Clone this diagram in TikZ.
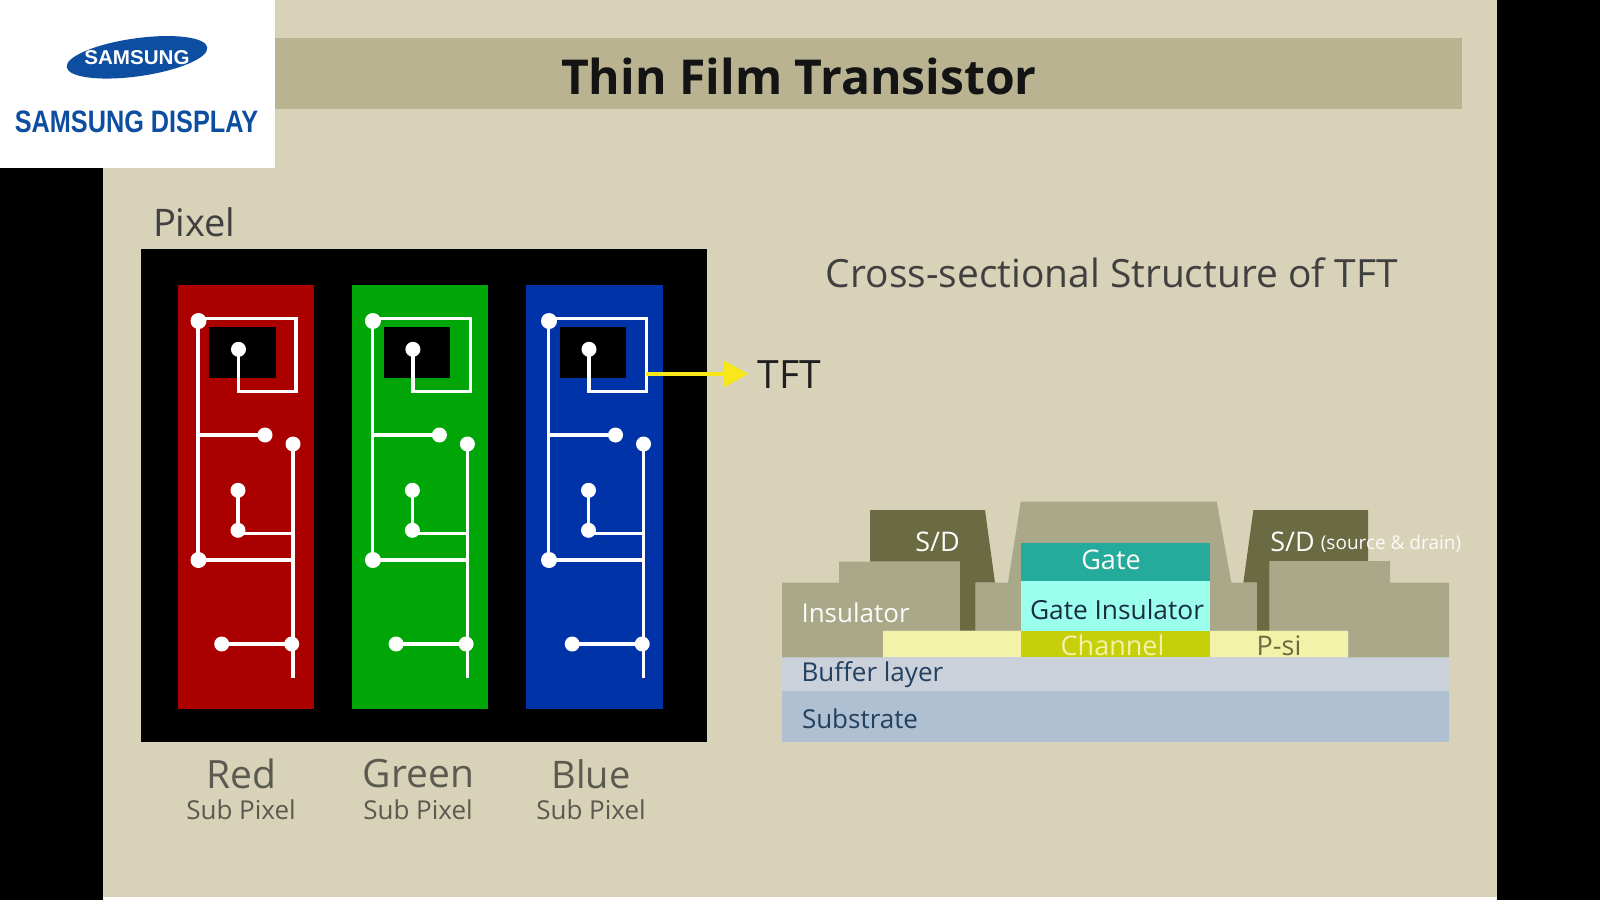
\documentclass[tikz,border=0pt]{standalone}
\usepackage{fontspec}
\setmainfont{Open Sans}
\newfontfamily\logofont{Liberation Sans}
\usetikzlibrary{arrows.meta}
\definecolor{panel}{HTML}{D8D2B8}
\definecolor{bar}{HTML}{B9B391}
\definecolor{sam}{HTML}{0D4EA0}
\definecolor{ins}{HTML}{A9A98A}
\definecolor{sdc}{HTML}{6B6B43}
\definecolor{subs}{HTML}{AFC0D2}
\definecolor{buf}{HTML}{CAD1DB}
\definecolor{gatec}{HTML}{24AB9B}
\definecolor{gins}{HTML}{9CFFEE}
\definecolor{chan}{HTML}{C6CF0A}
\definecolor{psi}{HTML}{F2F3A8}
\definecolor{navy}{HTML}{23405F}
\definecolor{lab}{HTML}{5A5A50}
\definecolor{rd}{HTML}{AA0000}
\definecolor{gr}{HTML}{00A608}
\definecolor{bl}{HTML}{0033A8}
\definecolor{yel}{HTML}{F8E81A}
\newcommand{\fsz}[1]{\fontsize{#1}{#1}\selectfont}
\tikzset{
  txt/.style={inner sep=0pt,outer sep=0pt},
  lft/.style={txt,anchor=west},
  dot/.style={circle,fill=white,draw=none,minimum size=15pt,inner sep=0pt,outer sep=0pt},
  bigdot/.style={dot,minimum size=16pt},
  wire/.style={draw=white,line width=3.2pt},
  sublabel/.style={txt,text=lab,align=center},
}
\newcommand{\subpixel}[4]{%
  \fill[#3] (177.7+#4,285) rectangle (314+#4,709);
  \begin{scope}[xshift=#2pt]
    \fill[black] (209.3,327.3) rectangle (275.7,378.3);
    \coordinate (#1tl) at (198,318.3);
    \coordinate (#1tr) at (296,318.3);
    \coordinate (#1br) at (296,391.7);
    \coordinate (#1bl) at (238.5,391.7);
    \coordinate (#1jl) at (198,435);
    \coordinate (#1jr) at (293,533.3);
    \coordinate (#1jg) at (238.5,533.3);
    \coordinate (#1jc) at (293,560);
    \coordinate (#1end) at (293,678);
    \node[bigdot] (#1A) at (198.5,321) {};
    \node[dot] (#1B) at (238.5,349.3) {};
    \node[bigdot] (#1C) at (198.5,560) {};
    \node[dot] (#1D) at (265,435) {};
    \node[dot] (#1E) at (293,444) {};
    \node[dot] (#1F) at (238,490.3) {};
    \node[dot] (#1G) at (238,530.3) {};
    \node[dot] (#1H) at (221.7,644) {};
    \node[dot] (#1I) at (291.7,644) {};
    \draw[wire] (#1tl) -- (#1tr) -- (#1br) -- (#1bl) -- (#1B.center);
    \draw[wire] (#1tl) -- (#1tl |- #1C);
    \draw[wire] (#1jl) -- (#1D.center);
    \draw[wire] (#1E.center) -- (#1end);
    \draw[wire] (#1F.center) -- (#1G.center);
    \draw[wire] (#1jg) -- (#1jr);
    \draw[wire] (#1C.center) -- (#1jc);
    \draw[wire] (#1H.center) -- (#1I.center);
  \end{scope}
}
\begin{document}
\begin{tikzpicture}[x=1pt,y=-1pt]
\useasboundingbox (0,0) rectangle (1600,900);
\fill[black] (0,0) rectangle (1600,900);
\fill[panel] (103,0) rectangle (1497,897);
\fill[white!92!panel] (103,897) rectangle (1497,900);
\fill[bar] (275,38) rectangle (1462,109);
\fill[white] (0,0) rectangle (275,168);
\fill[sam,rotate around={8:(137,57.3)}] (137,57.3) ellipse [x radius=71,y radius=19];
\node[txt,text=white,font=\logofont\bfseries\fsz{20},xscale=1.03] (samsung) at (137,57.5) {SAMSUNG};
\node[txt,text=sam,font=\logofont\bfseries\fsz{31},xscale=.815] (display) at (136.5,121.5) {SAMSUNG DISPLAY};
\node[txt,font=\fsz{48.1}\bfseries,text=black!92] (title) at (799,76) {Thin Film Transistor};
\node[lft,font=\fsz{38},text=black!75] (pixel) at (153,222) {Pixel};
\fill[black] (141,249) rectangle (707,742);
\subpixel{r}{0}{rd}{0}
\subpixel{g}{174.4}{gr}{174.4}
\subpixel{b}{350.5}{bl}{348.7}
\node[lft,font=\fsz{39},text=black!88] (tft) at (757.5,375) {TFT};
\coordinate (tftfrom) at (646,374);
\draw[yel,line width=4.5pt,-{Triangle[length=25pt,width=26pt]},shorten >=9pt] (tftfrom) -- (tftfrom -| tft.west);
\node[txt,font=\fsz{38.9},text=black!75] (cross) at (1112,273) {Cross-sectional Structure of TFT};
\node[sublabel,font=\fsz{39}] (red) at (241,774) {Red};
\node[sublabel,font=\fsz{26}] (reds) at (241,810) {Sub Pixel};
\node[sublabel,font=\fsz{39}] (green) at (418.5,774) {Green};
\node[sublabel,font=\fsz{26}] (greens) at (418,810) {Sub Pixel};
\node[sublabel,font=\fsz{38}] (blue) at (591,774) {Blue};
\node[sublabel,font=\fsz{26}] (blues) at (591,810) {Sub Pixel};
% cross section
\fill[subs] (782,690.7) rectangle (1449,741.7);
\fill[buf] (782,657.3) rectangle (1449,690.7);
\fill[sdc] (870,510) -- (985,510) -- (995,582.7) -- (975.7,582.7) -- (975.7,630.7) -- (959.7,630.7) -- (959.7,561.7) -- (870,561.7) -- cycle;
\fill[sdc] (1253.4,510) -- (1368,510) -- (1368,561) -- (1269.5,561) -- (1269.5,630.7) -- (1256.7,630.7) -- (1256.7,582.7) -- (1243.3,582.7) -- cycle;
\fill[ins] (782,657.3) -- (782,582.7) -- (839,582.7) -- (839,561.7) -- (959.7,561.7) -- (959.7,630.7) -- (883,630.7) -- (883,657.3) -- cycle;
\fill[ins] (975.7,630.7) -- (975.7,582.7) -- (1008,582.7) -- (1020.7,501.7) -- (1216.7,501.7) -- (1231.4,582.7) -- (1256.7,582.7) -- (1256.7,630.7) -- cycle;
\fill[ins] (1269.5,561) -- (1390,561) -- (1390,582.7) -- (1449,582.7) -- (1449,657.3) -- (1348.4,657.3) -- (1348.4,630.7) -- (1269.5,630.7) -- cycle;
\fill[psi] (883,630.7) rectangle (1348.4,657.3);
\fill[chan] (1020.7,630.7) rectangle (1209.8,657.3);
\fill[gins] (1020.7,580.7) rectangle (1209.8,630.7);
\fill[gatec] (1020.7,543.3) rectangle (1209.8,580.7);
\node[txt,text=white!92!panel,font=\fsz{27}] (sd1) at (937.5,542) {S/D};
\node[txt,text=white!92!panel,font=\fsz{27}] (sd2) at (1292.6,542) {S/D};
\node[txt,text=white!92!panel,font=\fsz{19}] (sdnote) at (1391,543.5) {(source \& drain)};
\node[txt,text=white!92!panel,font=\fsz{27}] (gate) at (1111,560) {Gate};
\node[txt,text=navy!70!black,font=\fsz{26.3}] (gi) at (1117,609.5) {Gate Insulator};
\node[txt,text=psi,font=\fsz{27}] (channel) at (1112.5,645.7) {Channel};
\node[txt,text=sdc,font=\fsz{27}] (psitext) at (1279,645.7) {P-si};
\node[lft,text=white!92!panel,font=\fsz{26}] (insl) at (801.5,612.5) {Insulator};
\node[lft,text=navy,font=\fsz{26}] (buffer) at (801.5,675) {Buffer layer};
\node[lft,text=navy,font=\fsz{26}] (substrate) at (802,719) {Substrate};
\end{tikzpicture}
\end{document}
